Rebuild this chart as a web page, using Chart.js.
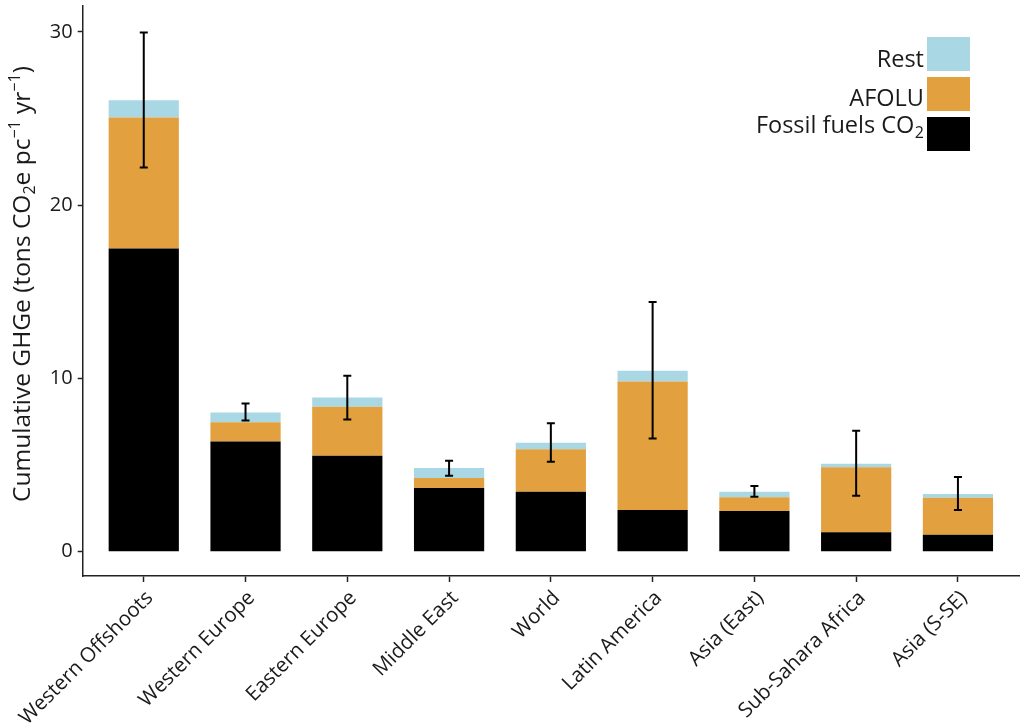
<!DOCTYPE html>
<html>
<head>
<meta charset="utf-8">
<script src="https://cdn.jsdelivr.net/npm/chart.js@4.4.0/dist/chart.umd.min.js"></script>
<style>
  html, body { margin: 0; padding: 0; background: #fff; }
  #wrap { width: 1024px; height: 728px; position: relative; }
</style>
</head>
<body>
<div id="wrap"><canvas id="ghg-grafica"></canvas></div>
<script>
// regiones
const categories = ['Western Offshoots', 'Western Europe', 'Eastern Europe', 'Middle East', 'World',
  'Latin America', 'Asia (East)', 'Sub-Sahara Africa', 'Asia (S-SE)'];

// valores por componente (t CO2e pc-1 yr-1)
const fossil = [17.5, 6.37, 5.54, 3.68, 3.46, 2.41, 2.35, 1.12, 0.98];
const afolu  = [7.56, 1.10, 2.83, 0.57, 2.45, 7.42, 0.79, 3.75, 2.14];
const rest   = [1.00, 0.57, 0.54, 0.58, 0.38, 0.61, 0.32, 0.21, 0.21];

// barras de error
const errLow  = [22.18, 7.58, 7.64, 4.39, 5.19, 6.54, 3.17, 3.23, 2.41];
const errHigh = [29.97, 8.56, 10.16, 5.25, 7.41, 14.41, 3.79, 6.98, 4.31];

const yTicks = [0, 10, 20, 30];

const FONT = '"Open Sans", Lato, sans-serif';
const TXT = '#1a1a1a';

(function(){
  const ctx = document.getElementById('ghg-grafica');

  const toXY = arr => arr.map((v, i) => ({ x: i + 1, y: v }));

  // barras de error
  const errorBars = {
    id: 'errorBars',
    afterDatasetsDraw(chart) {
      const c = chart.ctx, x = chart.scales.x, y = chart.scales.y;
      c.save();
      c.strokeStyle = '#000';
      c.lineWidth = 2;
      errLow.forEach((lo, i) => {
        const px = x.getPixelForValue(i + 1);
        const y1 = y.getPixelForValue(lo), y2 = y.getPixelForValue(errHigh[i]);
        c.beginPath();
        c.moveTo(px, y1); c.lineTo(px, y2);
        c.moveTo(px - 4, y1); c.lineTo(px + 4, y1);
        c.moveTo(px - 4, y2); c.lineTo(px + 4, y2);
        c.stroke();
      });
      c.restore();
    }
  };

  // leyenda a la derecha, texto a la izquierda de la caja
  const leyenda = {
    id: 'leyenda',
    afterDraw(chart) {
      const c = chart.ctx;
      const ds = chart.data.datasets;
      const rows = [
        { d: ds[2], top: 37, base: 67 },
        { d: ds[1], top: 77, base: 106 },
        { d: ds[0], top: 117, base: 133 }
      ];
      c.save();
      c.textBaseline = 'alphabetic';
      c.textAlign = 'right';
      rows.forEach(r => {
        c.fillStyle = r.d.backgroundColor;
        c.fillRect(927, r.top, 43, 34);
        c.fillStyle = TXT;
        const label = r.d.label;
        if (label.endsWith('CO2')) {
          c.font = '16px ' + FONT;
          const w2 = c.measureText('2').width;
          c.fillText('2', 924, r.base + 5);
          c.font = '23.5px ' + FONT;
          c.fillText(label.slice(0, -1), 924 - w2 - 0.5, r.base);
        } else {
          c.font = '23.5px ' + FONT;
          c.fillText(label, 924, r.base);
        }
      });
      c.restore();
    }
  };

  // titulo eje y con sub/superindices
  const tituloY = {
    id: 'tituloY',
    afterDraw(chart) {
      const c = chart.ctx;
      const parts = [
        ['Cumulative GHGe (tons CO', 0], ['2', 1], ['e pc', 0], ['\u22121', 2],
        [' yr', 0], ['\u22121', 2], [')', 0]
      ];
      const big = '24.5px ' + FONT, small = '16px ' + FONT;
      c.save();
      let total = 0;
      parts.forEach(p => { c.font = p[1] ? small : big; total += c.measureText(p[0]).width; });
      c.translate(30, 284);
      c.rotate(-Math.PI / 2);
      c.fillStyle = TXT;
      c.textAlign = 'left';
      c.textBaseline = 'alphabetic';
      let x = -total / 2;
      parts.forEach(p => {
        c.font = p[1] ? small : big;
        const dy = p[1] === 1 ? 5 : (p[1] === 2 ? -10 : 0);
        c.fillText(p[0], x, dy);
        x += c.measureText(p[0]).width;
      });
      c.restore();
    }
  };

  new Chart(ctx, {
    type: 'bar',
    data: {
      datasets: [
        { label: 'Fossil fuels CO2', data: toXY(fossil), backgroundColor: '#000000' },
        { label: 'AFOLU', data: toXY(afolu), backgroundColor: '#e3a03f' },
        { label: 'Rest', data: toXY(rest), backgroundColor: '#a9d8e4' }
      ]
    },
    options: {
      responsive: true,
      maintainAspectRatio: false,
      animation: false,
      layout: { padding: { top: 6, right: 5, left: 0, bottom: 0 } },
      datasets: { bar: { categoryPercentage: 1, barPercentage: 0.69 } },
      scales: {
        x: {
          type: 'linear',
          stacked: true,
          offset: false,
          min: 0.4,
          max: 9.6,
          afterBuildTicks: s => { s.ticks = categories.map((c, i) => ({ value: i + 1 })); },
          afterFit: s => { s.height = 152; s.paddingLeft = 0; s.paddingRight = 0; },
          grid: { display: true, drawOnChartArea: false, offset: false, tickLength: 6, tickColor: '#222', tickWidth: 1.5 },
          border: { display: true, color: '#222', width: 1.5 },
          ticks: {
            autoSkip: false,
            minRotation: 45,
            maxRotation: 45,
            padding: 4,
            labelOffset: 6,
            color: TXT,
            font: { family: FONT, size: 20.5 },
            callback: v => categories[v - 1]
          }
        },
        y: {
          stacked: true,
          min: -1.4,
          max: 31.5,
          afterBuildTicks: s => { s.ticks = yTicks.map(v => ({ value: v })); },
          afterFit: s => { s.width = 82.7; s.paddingTop = 0; s.paddingBottom = 0; },
          grid: { display: true, drawOnChartArea: false, tickLength: 5, tickColor: '#222', tickWidth: 1.5 },
          border: { display: true, color: '#222', width: 1.5 },
          ticks: { color: TXT, padding: 5, font: { family: FONT, size: 20 } }
        }
      },
      plugins: {
        legend: { display: false },
        tooltip: { enabled: false }
      }
    },
    plugins: [errorBars, leyenda, tituloY]
  });
})();
</script>
</body>
</html>
